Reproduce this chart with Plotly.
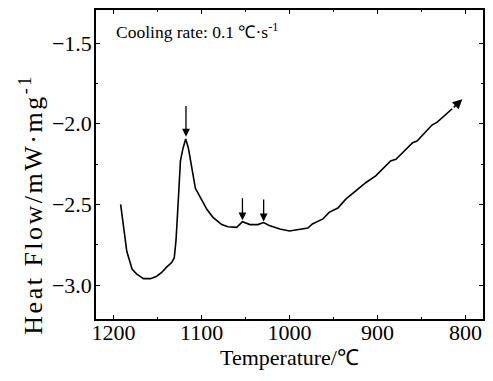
import plotly.graph_objects as go

temperature = [1192, 1189, 1185, 1179, 1174, 1166, 1158, 1151, 1145, 1140, 1134, 1131, 1129,
               1126.5, 1124, 1121, 1118, 1115, 1111, 1107, 1102, 1094, 1087, 1077, 1070, 1060,
               1053.5, 1045, 1036, 1029.5, 1023, 1011, 1000, 989, 979, 974, 962, 955, 945, 936,
               925, 913, 902, 894, 885, 879, 870, 860, 855, 845, 838, 832, 822, 815]
heat_flow = [-2.50, -2.62, -2.79, -2.90, -2.93, -2.96, -2.96, -2.945, -2.92, -2.89, -2.86, -2.83, -2.72,
             -2.48, -2.23, -2.15, -2.095, -2.15, -2.29, -2.40, -2.45, -2.53, -2.58, -2.625, -2.638, -2.642,
             -2.607, -2.625, -2.625, -2.612, -2.63, -2.652, -2.665, -2.657, -2.646, -2.621, -2.59, -2.549,
             -2.522, -2.467, -2.415, -2.364, -2.323, -2.281, -2.23, -2.22, -2.169, -2.117, -2.107, -2.051,
             -2.008, -1.99, -1.938, -1.907]

# marker arrows: (temperature, tail value, tip value)
peak_T = [1117.7, 1053.5, 1029.4]
peak_tail = [-1.88, -2.452, -2.46]
peak_tip = [-2.08, -2.598, -2.605]

end_tip = (803.5, -1.848)

x_ticks = [1200, 1100, 1000, 900, 800]
y_ticks = [-3.0, -2.5, -2.0, -1.5]

font_family = "Liberation Serif, Times New Roman, serif"

fig = go.Figure()
fig.add_trace(go.Scatter(x=temperature, y=heat_flow, mode="lines",
                         line=dict(color="black", width=1.6), showlegend=False))

for T, tail, tip in zip(peak_T, peak_tail, peak_tip):
    fig.add_annotation(x=T, y=tip, ax=T, ay=tail, xref="x", yref="y", axref="x", ayref="y",
                       text="", showarrow=True, arrowhead=2, arrowsize=1.2, arrowwidth=1.3,
                       arrowcolor="black")

fig.add_annotation(x=end_tip[0], y=end_tip[1], ax=temperature[-1], ay=heat_flow[-1],
                   xref="x", yref="y", axref="x", ayref="y", text="", showarrow=True,
                   arrowhead=2, arrowsize=1.2, arrowwidth=1.6, arrowcolor="black")

fig.add_annotation(x=0.047, y=0.975, xref="paper", yref="paper", xanchor="left", yanchor="top",
                   text="Cooling rate: 0.1 ℃·s<sup>-1</sup>", showarrow=False,
                   font=dict(family=font_family, size=17.5, color="black"))

# y-axis title as annotation (placed like the reference, a little below the plot centre)
fig.add_annotation(x=-0.167, y=0.372, xref="paper", yref="paper", xanchor="center", yanchor="middle",
                   text="Heat Flow/mW·mg<sup>-1</sup>", textangle=-90, showarrow=False,
                   font=dict(family=font_family, size=26, color="black"))

axis_common = dict(showline=True, linecolor="black", linewidth=1.5, mirror="allticks",
                   ticks="inside", ticklen=4, tickwidth=1.2, tickcolor="black",
                   showgrid=False, zeroline=False,
                   tickfont=dict(family=font_family, size=22, color="black"),
                   title_font=dict(family=font_family, size=22, color="black"))

fig.update_xaxes(range=[1220, 780], tickvals=x_ticks, title_text="Temperature/℃",
                 minor=dict(ticks="inside", ticklen=2, dtick=50, tickcolor="black"),
                 ticklabelstandoff=-7, title_standoff=1, **axis_common)
fig.update_yaxes(range=[-3.21, -1.295], tickvals=y_ticks, tickformat=".1f",
                 minor=dict(ticks="inside", ticklen=2, dtick=0.25, tickcolor="black"),
                 ticklabelstandoff=-2, **axis_common)

fig.update_layout(width=493, height=381, margin=dict(l=96, r=8, t=9, b=62),
                  plot_bgcolor="white", paper_bgcolor="white")

post = """
document.body.style.margin='0';
document.querySelectorAll('g.annotation text.annotation-text').forEach(function(t){
  if (t.textContent.indexOf('Heat') === 0) { t.style.letterSpacing = '2.5px'; }
});
"""
fig.write_html("out.html", post_script=post, config={"displayModeBar": False})
